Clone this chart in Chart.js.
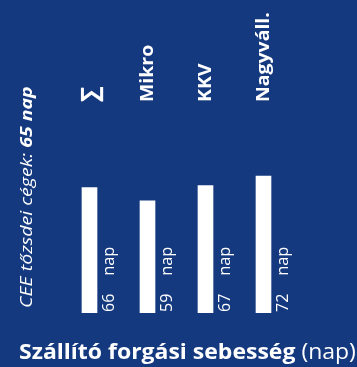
<!DOCTYPE html>
<html>
<head>
<meta charset="utf-8">
<script src="https://cdn.jsdelivr.net/npm/chart.js@4"></script>
<style>
  html, body { margin: 0; padding: 0; background: #15397f; }
  #wrap { width: 357px; height: 367px; position: relative; }
</style>
</head>
<body>
<div id="wrap"><canvas id="chart" width="357" height="367"></canvas></div>
<script>
// szállító forgási sebesség, napokban
var categories = ['\u2211', 'Mikro', 'KKV', 'Nagyváll.'];
var values = [66, 59, 67, 72];
var unit = 'nap';
var benchmarkLabel = 'CEE tőzsdei cégek: ';
var benchmarkValue = 65;
var titleBold = 'Szállító forgási sebesség';
var titleUnit = '(nap)';

var FONT = '"Open Sans", "Noto Sans", sans-serif';

// rotated text, reading bottom to top; sx widens the run along its direction
function upText(ctx, text, x, y, font, sx) {
  ctx.save();
  ctx.translate(x, y);
  ctx.rotate(-Math.PI / 2);
  ctx.scale(sx || 1, 1);
  ctx.font = font;
  ctx.textAlign = 'left';
  ctx.textBaseline = 'alphabetic';
  ctx.fillText(text, 0, 0);
  var w = ctx.measureText(text).width * (sx || 1);
  ctx.restore();
  return w;
}

var labelsPlugin = {
  id: 'labels',
  afterDatasetsDraw: function (chart) {
    var ctx = chart.ctx;
    var xs = chart.scales.x;
    var ys = chart.scales.y;
    var base = ys.getPixelForValue(0);
    ctx.save();
    ctx.fillStyle = '#ffffff';

    // category names above the bars
    categories.forEach(function (c, i) {
      var x = xs.getPixelForValue(i);
      if (i === 0) {
        upText(ctx, c, x + 8, 102, 'bold 24px ' + FONT, 1);
      } else {
        upText(ctx, c, x + 5.5, 102, 'bold 18px ' + FONT, 1.08);
      }
    });

    // value labels beside each bar
    chart.getDatasetMeta(0).data.forEach(function (bar, i) {
      var bx = bar.x + bar.width / 2 + 16.5;
      var w = upText(ctx, String(values[i]), bx, base - 1, '16px ' + FONT, 1);
      upText(ctx, unit, bx, base - 1 - w - 18, '16px ' + FONT, 1.02);
    });

    // benchmark note on the left
    var nw = upText(ctx, benchmarkLabel, 32, 308, 'italic 16px ' + FONT, 1.22);
    upText(ctx, benchmarkValue + ' ' + unit, 32, 308 - nw, 'italic bold 16px ' + FONT, 1.22);

    // title at the bottom
    ctx.save();
    ctx.translate(19, 359);
    ctx.scale(1.045, 1);
    ctx.textAlign = 'left';
    ctx.textBaseline = 'alphabetic';
    ctx.font = 'bold 22px ' + FONT;
    ctx.fillText(titleBold, 0, 0);
    var tw = ctx.measureText(titleBold + ' ').width;
    ctx.font = '22px ' + FONT;
    ctx.fillText(titleUnit, tw, 0);
    ctx.restore();

    ctx.restore();
  }
};

new Chart(document.getElementById('chart'), {
  type: 'bar',
  data: {
    labels: categories,
    datasets: [{
      data: values,
      backgroundColor: '#ffffff',
      borderWidth: 0,
      barThickness: 15
    }]
  },
  options: {
    responsive: false,
    animation: false,
    layout: { padding: { left: 60.5, right: 64.5, top: 161, bottom: 54 } },
    plugins: { legend: { display: false }, tooltip: { enabled: false } },
    scales: {
      x: { display: false },
      y: { display: false, min: 0, max: 80 }
    }
  },
  plugins: [labelsPlugin]
});
</script>
</body>
</html>
